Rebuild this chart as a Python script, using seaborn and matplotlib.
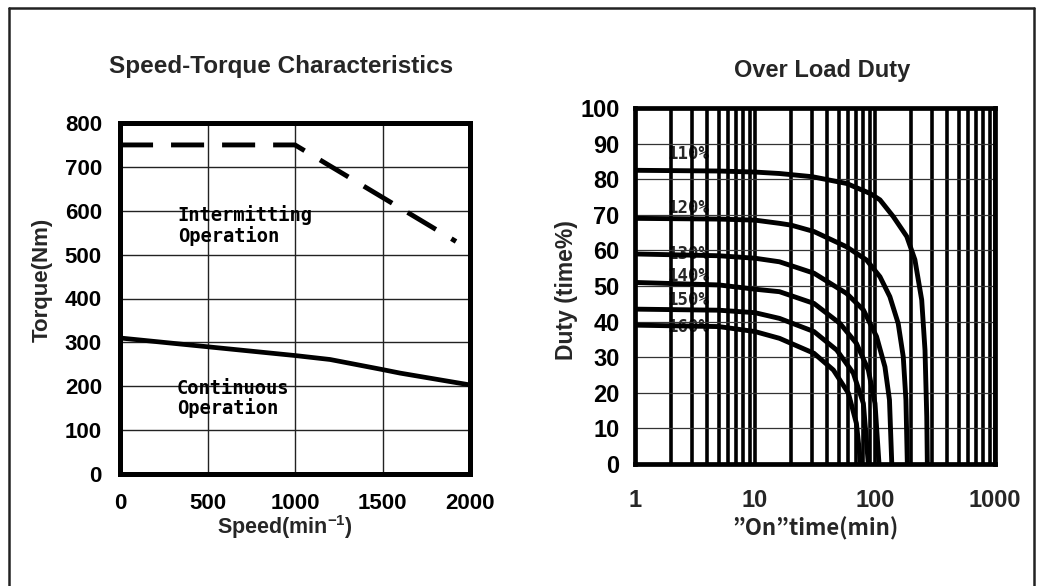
import numpy as np
import pandas as pd
import matplotlib
matplotlib.use("Agg")
import matplotlib.pyplot as plt
from matplotlib.ticker import LogLocator, NullFormatter, FixedLocator, FixedFormatter
from matplotlib.lines import Line2D
import seaborn as sns

# ---------------- data ----------------
speed_ticks = [0, 500, 1000, 1500, 2000]
torque_ticks = [0, 100, 200, 300, 400, 500, 600, 700, 800]

speed_int = [0, 1000, 1920]
torque_int = [750, 750, 530]

speed_cont = [0, 500, 1000, 1200, 1500, 1600, 2000]
torque_cont = [310, 290, 270, 261, 238, 230, 203]

duty_ticks = [0, 10, 20, 30, 40, 50, 60, 70, 80, 90, 100]
time_ticks = [1, 10, 100, 1000]
time_labels = ["1", "10", "100", "1000"]

load_names = ["110%", "120%", "130%", "140%", "150%", "160%"]
t_110 = [1, 5, 10, 16, 30, 58, 91, 110, 142, 184, 215, 245, 261, 270, 273]
d_110 = [82.5, 82.3, 82, 81.6, 80.7, 78.8, 76, 74.2, 69.5, 63.9, 57.4, 46.1, 32, 13.3, 0]
t_120 = [1, 5, 10, 16, 20, 31, 58, 85, 110, 133, 156, 172, 181, 186]
d_120 = [69, 68.8, 68.5, 67.6, 67.1, 65.3, 61, 57.3, 52.6, 47, 39.5, 30.1, 18, 0]
t_130 = [1, 5, 10, 16, 31, 58, 80, 103, 121, 132, 138]
d_130 = [59, 58.5, 57.8, 56.8, 53.6, 47.9, 43.3, 35.8, 27.3, 18, 0]
t_140 = [1, 5, 10, 16, 31, 51, 70, 88, 100, 108]
d_140 = [51, 50.3, 49.1, 48.4, 45.1, 39.5, 33.9, 26.4, 17, 0]
t_150 = [1, 5, 10, 16, 31, 48, 66, 80, 88]
d_150 = [43.5, 43.2, 42.5, 40.9, 37.2, 32, 25.5, 17, 0]
t_160 = [1, 5, 10, 16, 31, 45, 60, 70, 76]
d_160 = [39, 38.6, 37.2, 35.3, 31.1, 26.4, 19.9, 11.4, 0]
label_duty = [87, 72, 59, 52.8, 46, 38.5]
label_time = 1.85

# ---------------- style ----------------
sns.set_theme(style="white")
plt.rcParams["font.family"] = ["Liberation Sans", "DejaVu Sans"]
plt.rcParams["mathtext.fontset"] = "custom"
plt.rcParams["mathtext.rm"] = "Liberation Sans:bold"
plt.rcParams["mathtext.it"] = "Liberation Sans:bold"
plt.rcParams["mathtext.bf"] = "Liberation Sans:bold"

fig = plt.figure(figsize=(10.37, 5.86), dpi=100)
W, H = 1037, 586

def fx(px):
    return px / W

def fy(py):
    return 1 - py / H

# outer border (open at the bottom)
border_kw = dict(color="#222222", lw=1.8, transform=fig.transFigure, clip_on=False)
fig.add_artist(Line2D([fx(9), fx(1034)], [fy(8), fy(8)], **border_kw))
fig.add_artist(Line2D([fx(9), fx(9)], [fy(8), fy(600)], **border_kw))
fig.add_artist(Line2D([fx(1034), fx(1034)], [fy(8), fy(600)], **border_kw))

tick_font1 = dict(fontsize=16, fontweight="bold", color="black")
tick_font2 = dict(fontsize=17, fontweight="bold", color="black")

# ---------------- left chart ----------------
ax1 = fig.add_axes([fx(120), fy(474), fx(470) - fx(120), fy(123) - fy(474)])
ax1.set_xlim(0, 2000)
ax1.set_ylim(0, 800)
ax1.set_xticks(speed_ticks)
ax1.set_yticks(torque_ticks)
ax1.set_xticklabels([str(v) for v in speed_ticks], **tick_font1)
ax1.set_yticklabels([str(v) for v in torque_ticks], **tick_font1)
ax1.tick_params(axis="both", length=0)
ax1.tick_params(axis="y", pad=13)
ax1.tick_params(axis="x", pad=14)
ax1.grid(True, color="#222222", lw=1.0)
ax1.set_axisbelow(True)
for s in ax1.spines.values():
    s.set_visible(True)
    s.set_color("black")
    s.set_linewidth(3.6)

df_int = pd.DataFrame({"speed": speed_int, "torque": torque_int})
df_cont = pd.DataFrame({"speed": speed_cont, "torque": torque_cont})
sns.lineplot(data=df_int, x="speed", y="torque", ax=ax1, color="black",
             lw=3.5, linestyle=(0, (6.8, 3.7)), zorder=3, clip_on=False)
sns.lineplot(data=df_cont, x="speed", y="torque", ax=ax1, color="black",
             lw=3.4, zorder=3)
ax1.set_xlabel("")
ax1.set_ylabel("")

mono = dict(family=["DejaVu Sans Mono"], fontweight="bold", fontsize=13.5, color="black")
ax1.text(330, 567, "Intermitting\nOperation", va="center", ha="left",
         linespacing=1.05, **mono)
ax1.text(326, 172, "Continuous\nOperation", va="center", ha="left",
         linespacing=1.05, **mono)

fig.text(fx(281), fy(67), "Speed-Torque Characteristics", ha="center", va="center",
         fontsize=17.5, fontweight="bold")
fig.text(fx(285), fy(527), r"Speed(min$^{-1}$)", ha="center", va="center",
         fontsize=15.5, fontweight="bold")
fig.text(fx(42), fy(280), "Torque(Nm)", ha="center", va="center", rotation=90,
         fontsize=16, fontweight="bold")

# ---------------- right chart ----------------
ax2 = fig.add_axes([fx(635), fy(464), fx(995) - fx(635), fy(108) - fy(464)])
ax2.set_xscale("log")
ax2.set_xlim(1, 1000)
ax2.set_ylim(0, 100)
ax2.xaxis.set_major_locator(FixedLocator(time_ticks))
ax2.xaxis.set_major_formatter(FixedFormatter(time_labels))
ax2.xaxis.set_minor_locator(LogLocator(base=10, subs=range(2, 10)))
ax2.xaxis.set_minor_formatter(NullFormatter())
ax2.set_yticks(duty_ticks)
ax2.set_yticklabels([str(v) for v in duty_ticks], **tick_font2)
for lab in ax2.get_xticklabels():
    lab.set_fontsize(17)
    lab.set_fontweight("bold")
ax2.tick_params(axis="both", which="both", length=0)
ax2.tick_params(axis="y", pad=11)
ax2.tick_params(axis="x", pad=18)
ax2.grid(True, axis="x", which="both", color="black", lw=2.6)
ax2.grid(True, axis="y", which="major", color="#333333", lw=0.9)
ax2.set_axisbelow(True)
for s in ax2.spines.values():
    s.set_visible(True)
    s.set_color("black")
    s.set_linewidth(3.4)

curves = [(t_110, d_110), (t_120, d_120), (t_130, d_130),
          (t_140, d_140), (t_150, d_150), (t_160, d_160)]
for name, (tt, dd) in zip(load_names, curves):
    dfc = pd.DataFrame({"time": tt, "duty": dd})
    sns.lineplot(data=dfc, x="time", y="duty", ax=ax2, color="black", lw=3.5,
                 zorder=3, sort=False, estimator=None)
ax2.set_xlabel("")
ax2.set_ylabel("")

for name, yv in zip(load_names, label_duty):
    ax2.text(label_time, yv, name, ha="left", va="center", zorder=0.3,
             family=["DejaVu Sans Mono"], fontweight="bold", fontsize=12.5)

fig.text(fx(822), fy(70), "Over Load Duty", ha="center", va="center",
         fontsize=17, fontweight="bold")
fig.text(fx(815), fy(529), "”On”time(min)", ha="center", va="center",
         fontsize=16, fontweight="bold",
         family=["Noto Sans CJK JP", "Liberation Sans"])
fig.text(fx(566), fy(290), "Duty (time%)", ha="center", va="center", rotation=90,
         fontsize=16.5, fontweight="bold")

fig.savefig("out.png", dpi=100)
